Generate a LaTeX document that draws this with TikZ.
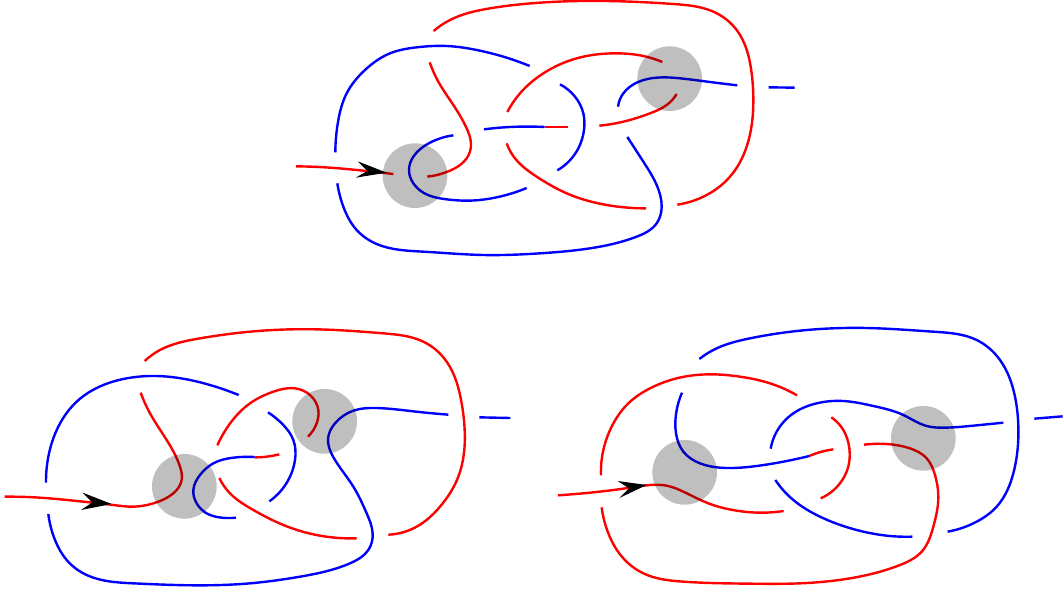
\documentclass[tikz,border=0pt]{standalone}
\usepackage{tikz}
\usetikzlibrary{hobby}

\begin{document}
\begin{tikzpicture}[
            x=.25pt,y=-.25pt,
            redstrand/.style={draw=red,line width=1.8pt,use Hobby shortcut},
            bluestrand/.style={draw=blue,line width=1.8pt,use Hobby shortcut},
            disc/.style={fill=black,opacity=.25},
            tip/.style={fill=black}]

            \useasboundingbox (0,0) rectangle (3189,1776);

            % top knot
            \begin{scope}[shift={(870,0)}]
            \draw[redstrand] (431,93) .. (480,60) .. (600,25) .. (750,8) .. (950,3) .. (1150,12) .. (1270,35) .. (1340,90) .. (1385,220) .. (1390,300) .. (1370,440) .. (1320,530) .. (1250,585) .. (1162,614);
            \draw[redstrand] (18,499) .. (120,503) .. (220,512) .. (310,522);
            \draw[redstrand] (419,187) .. (445,245) .. (490,315) .. (530,385) .. (543,435) .. (530,475) .. (480,512) .. (412,530);
            \draw[redstrand] (652,336) .. (690,280) .. (760,220) .. (860,175) .. (980,160) .. (1050,166) .. (1117,186);
            \draw[redstrand] (764,381) -- (835,381);
            \draw[redstrand] (928,377) .. (1000,365) .. (1080,340) .. (1130,315) .. (1160,282);
            \draw[redstrand] (650,430) .. (675,475) .. (740,530) .. (830,580) .. (950,615) .. (1068,625);
            \draw[bluestrand] (136,457) .. (145,360) .. (170,280) .. (225,210) .. (300,160) .. (380,142) .. (470,138) .. (560,150) .. (640,170) .. (719,198);
            \draw[bluestrand] (490,406) .. (420,428) .. (370,470) .. (357,510) .. (370,550) .. (400,578) .. (470,598) .. (530,602) .. (620,592) .. (710,564);
            \draw[bluestrand] (582,388) .. (660,381) .. (764,381);
            \draw[bluestrand] (810,253) .. (855,290) .. (880,340) .. (882,390) .. (865,445) .. (802,511);
            \draw[bluestrand] (984,320) .. (1000,280) .. (1040,248) .. (1100,233) .. (1180,236) .. (1260,246) .. (1342,256);
            \draw[bluestrand] (1436,262) -- (1514,263);
            \draw[bluestrand] (1012,411) .. (1060,485) .. (1100,555) .. (1115,620) .. (1100,670) .. (1040,710) .. (900,745) .. (750,760) .. (580,765) .. (400,755) .. (260,732) .. (200,690) .. (160,620) .. (142,550);
            \fill[disc] (375,527) circle (97);
            \fill[disc] (1139,236) circle (97);
            \fill[tip] (290,518) -- (203,484) -- (232,513) -- (197,533) -- cycle;
            \end{scope}

            % lower left knot
            \begin{scope}[shift={(0,960)}]
            \draw[redstrand] (434,123) .. (480,90) .. (600,55) .. (750,35) .. (950,28) .. (1150,40) .. (1270,65) .. (1340,125) .. (1385,250) .. (1394,330) .. (1375,470) .. (1320,560) .. (1250,620) .. (1165,644);
            \draw[redstrand] (14,530) .. (120,533) .. (250,545) .. (340,555) .. (400,560) .. (460,550) .. (520,520) .. (545,480) .. (540,440) .. (500,360) .. (450,280) .. (422,218);
            \draw[redstrand] (652,376) .. (680,325) .. (750,250) .. (820,215) .. (885,205) .. (930,225) .. (955,270) .. (950,310) .. (924,350);
            \draw[redstrand] (764,412) .. (800,410) .. (838,403);
            \draw[redstrand] (658,474) .. (690,520) .. (760,570) .. (850,615) .. (960,647) .. (1070,655);
            \draw[bluestrand] (138,488) .. (145,410) .. (175,320) .. (230,245) .. (310,195) .. (380,175) .. (470,168) .. (570,180) .. (640,198) .. (716,225);
            \draw[bluestrand] (764,411) .. (700,413) .. (640,430) .. (600,465) .. (580,510) .. (590,550) .. (620,580) .. (665,593) .. (708,593);
            \draw[bluestrand] (804,277) .. (850,315) .. (880,360) .. (885,420) .. (870,470) .. (808,544);
            \draw[bluestrand] (1345,284) .. (1240,274) .. (1130,264) .. (1060,272) .. (1005,310) .. (985,350) .. (1005,420) .. (1060,500) .. (1100,580) .. (1118,640) .. (1105,690) .. (1050,730) .. (900,770) .. (750,790) .. (600,796) .. (400,790) .. (260,765) .. (200,720) .. (165,660) .. (145,582);
            \draw[bluestrand] (1438,292) -- (1531,294);
            \fill[disc] (553,499) circle (97);
            \fill[disc] (974,304) circle (97);
            \fill[tip] (335,552) -- (248,518) -- (277,547) -- (243,570) -- cycle;
            \end{scope}

            % lower right knot
            \begin{scope}[shift={(1650,960)}]
            \draw[bluestrand] (448,117) .. (500,85) .. (600,55) .. (750,32) .. (950,24) .. (1150,35) .. (1280,60) .. (1350,120) .. (1395,230) .. (1405,320) .. (1390,460) .. (1340,560) .. (1280,605) .. (1193,635);
            \draw[redstrand] (24,526) .. (120,518) .. (240,503) .. (300,495) .. (350,497) .. (400,515) .. (470,548) .. (560,572) .. (640,578) .. (701,573);
            \draw[redstrand] (741,226) .. (660,190) .. (570,170) .. (480,163) .. (380,175) .. (300,205) .. (235,250) .. (185,320) .. (160,390) .. (153,466);
            \draw[redstrand] (844,292) .. (880,330) .. (898,385) .. (897,430) .. (880,475) .. (812,535);
            \draw[redstrand] (778,408) .. (815,395) .. (850,388);
            \draw[redstrand] (942,374) .. (1010,372) .. (1080,385) .. (1130,415) .. (1155,465) .. (1165,530) .. (1150,620) .. (1115,695) .. (1050,735) .. (900,775) .. (750,790) .. (600,791) .. (400,785) .. (280,760) .. (220,715) .. (175,640) .. (155,562);
            \draw[bluestrand] (396,218) .. (380,270) .. (378,340) .. (400,395) .. (450,430) .. (530,444) .. (620,438) .. (700,425) .. (778,408);
            \draw[bluestrand] (662,386) .. (680,335) .. (730,280) .. (800,250) .. (880,243) .. (970,258) .. (1060,285) .. (1130,318) .. (1180,323) .. (1270,317) .. (1360,308);
            \draw[bluestrand] (1453,296) -- (1538,289);
            \draw[bluestrand] (676,480) .. (730,540) .. (810,590) .. (920,630) .. (1020,648) .. (1087,650);
            \fill[disc] (404,457) circle (97);
            \fill[disc] (1120,355) circle (97);
            \fill[tip] (290,495) -- (203,483) -- (237,505) -- (208,534) -- cycle;
            \end{scope}
\end{tikzpicture}
\end{document}
